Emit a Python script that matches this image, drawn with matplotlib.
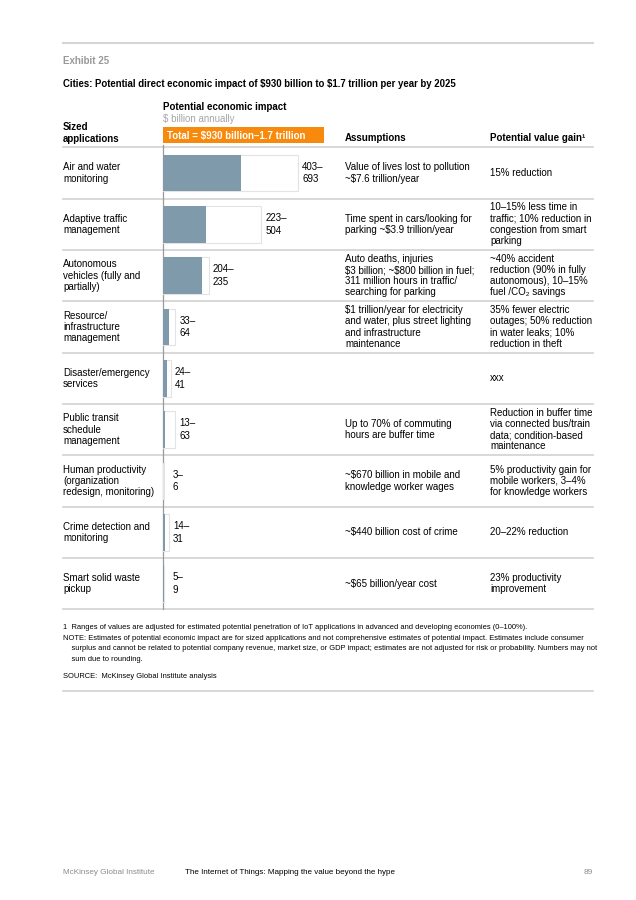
import numpy as np
import matplotlib
matplotlib.use("Agg")
import matplotlib.pyplot as plt
from matplotlib.patches import Rectangle

plt.rcParams['font.family'] = ['Liberation Sans', 'DejaVu Sans']
plt.rcParams['text.parse_math'] = False

# data
apps = ["Air and water\nmonitoring",
        "Adaptive traffic\nmanagement",
        "Autonomous\nvehicles (fully and\npartially)",
        "Resource/\ninfrastructure\nmanagement",
        "Disaster/emergency\nservices",
        "Public transit\nschedule\nmanagement",
        "Human productivity\n(organization\nredesign, monitoring)",
        "Crime detection and\nmonitoring",
        "Smart solid waste\npickup"]
low = [403, 223, 204, 33, 24, 13, 3, 14, 5]
high = [693, 504, 235, 64, 41, 63, 6, 31, 9]
assumptions = ["Value of lives lost to pollution\n~$7.6 trillion/year",
               "Time spent in cars/looking for\nparking ~$3.9 trillion/year",
               "Auto deaths, injuries\n$3 billion; ~$800 billion in fuel;\n311 million hours in traffic/\nsearching for parking",
               "$1 trillion/year for electricity\nand water, plus street lighting\nand infrastructure\nmaintenance",
               "",
               "Up to 70% of commuting\nhours are buffer time",
               "~$670 billion in mobile and\nknowledge worker wages",
               "~$440 billion cost of crime",
               "~$65 billion/year cost"]
gains = ["15% reduction",
         "10–15% less time in\ntraffic; 10% reduction in\ncongestion from smart\nparking",
         "~40% accident\nreduction (90% in fully\nautonomous), 10–15%\nfuel /CO₂ savings",
         "35% fewer electric\noutages; 50% reduction\nin water leaks; 10%\nreduction in theft",
         "xxx",
         "Reduction in buffer time\nvia connected bus/train\ndata; condition-based\nmaintenance",
         "5% productivity gain for\nmobile workers, 3–4%\nfor knowledge workers",
         "20–22% reduction",
         "23% productivity\nimprovement"]

footnotes = ["1  Ranges of values are adjusted for estimated potential penetration of IoT applications in advanced and developing economies (0–100%).",
             "NOTE: Estimates of potential economic impact are for sized applications and not comprehensive estimates of potential impact. Estimates include consumer",
             "    surplus and cannot be related to potential company revenue, market size, or GDP impact; estimates are not adjusted for risk or probability. Numbers may not",
             "    sum due to rounding."]

W, H = 636, 900
fig = plt.figure(figsize=(W / 100, H / 100), dpi=100)
ax = fig.add_axes([0, 0, 1, 1])
ax.set_xlim(0, W)
ax.set_ylim(H, 0)
ax.axis('off')

GRAY_LINE = '#d5d5d5'
BAR = '#7f9aab'
ORANGE = '#f7890c'

left, right = 63, 593
top_rows, row_h = 147.3, 51.33
n = len(apps)


def lines(x, yc, txt, step=11.2, **kw):
    parts = txt.split("\n")
    y0 = yc - step * (len(parts) - 1) / 2
    for i, p in enumerate(parts):
        ax.text(x, y0 + i * step, p, va='center', ha='left', **kw)


# top rule + headings
ax.plot([left, right], [43.3, 43.3], color=GRAY_LINE, lw=1.5)
ax.text(left, 61, "Exhibit 25", fontsize=7, fontweight='bold', color='#999999', va='center')
ax.text(left, 84, "Cities: Potential direct economic impact of $930 billion to $1.7 trillion per year by 2025",
        fontsize=6.95, fontweight='bold', va='center')

ax.text(162.7, 106.7, "Potential economic impact", fontsize=7, fontweight='bold', va='center')
ax.text(162.7, 118.5, "$ billion annually", fontsize=7, color='#a6a6a6', va='center')
ax.add_patch(Rectangle((162.7, 127.3), 161.6, 16, facecolor=ORANGE, edgecolor='none'))
ax.text(166.7, 135.5, "Total = $930 billion–1.7 trillion", fontsize=7, fontweight='bold',
        color='white', va='center')
lines(left, 133, "Sized\napplications", fontweight='bold', fontsize=7)
ax.text(345, 138, "Assumptions", fontsize=7, fontweight='bold', va='center')
ax.text(490, 138, "Potential value gain¹", fontsize=7, fontweight='bold', va='center')

# row separators
for i in range(n + 1):
    y = top_rows + i * row_h
    ax.plot([left, right], [y, y], color=GRAY_LINE, lw=1.3)

# text columns
for i in range(n):
    yc = top_rows + (i + 0.5) * row_h
    lines(left, yc, apps[i], fontsize=7)
    if assumptions[i]:
        lines(345, yc, assumptions[i], fontsize=7)
    lines(490, yc, gains[i], fontsize=7)

# bars
px_per_unit = 0.195
bw = 330 - 162.7
bx = fig.add_axes([162.7 / W, 1 - (top_rows + n * row_h) / H, bw / W, n * row_h / H])
bx.set_xlim(0, bw / px_per_unit)
bx.set_ylim(n, 0)
bx.axis('off')
ypos = np.arange(n) + 0.5
bx.barh(ypos, high, height=0.715, color='white', edgecolor='#e3e3e3', lw=0.8)
bx.barh(ypos, low, height=0.715, color=BAR, edgecolor='none')
for y, lo, hi in zip(ypos, low, high):
    bx.annotate(f"{lo}–\n{hi}", (max(hi, 28), y), xytext=(3, 0), textcoords='offset points',
                va='center', ha='left', fontsize=7, linespacing=1.35)
ax.plot([162.7, 162.7], [top_rows - 2, top_rows + n * row_h], color='#9a9a9a', lw=0.9)

# footnotes
for i, t in enumerate(footnotes):
    ax.text(left, 627.5 + i * 10.7, t, fontsize=5.42, va='center')
ax.text(left, 677, "SOURCE:  McKinsey Global Institute analysis", fontsize=5.42, va='center')
ax.plot([left, right], [691, 691], color=GRAY_LINE, lw=1.3)

# footer
ax.text(left, 873, "McKinsey Global Institute", fontsize=5.85, color='#8c8c8c', va='center')
ax.text(185, 873, "The Internet of Things: Mapping the value beyond the hype", fontsize=5.75, va='center')
ax.text(right, 873, "89", fontsize=6, color='#8c8c8c', va='center', ha='right')

fig.savefig("out.png", dpi=100)
